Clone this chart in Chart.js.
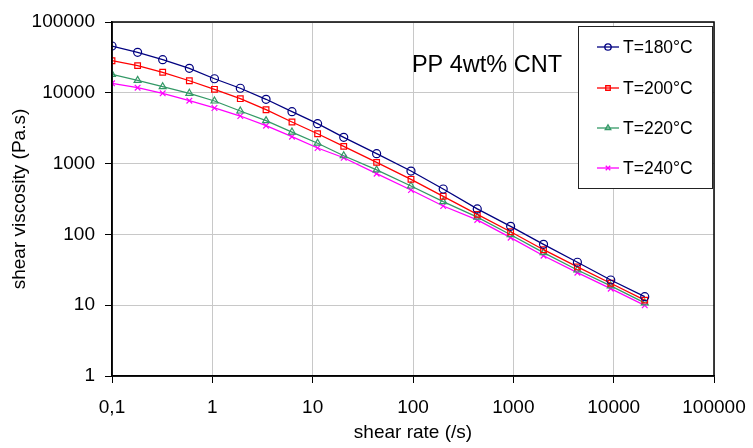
<!DOCTYPE html>
<html>
<head>
<meta charset="utf-8">
<script src="https://cdn.jsdelivr.net/npm/chart.js@4/dist/chart.umd.min.js"></script>
<style>
  html, body { margin: 0; padding: 0; background: #fff; }
  #viscChart { display: block; }
</style>
</head>
<body>
<canvas id="viscChart" width="753" height="448"></canvas>
<script>
// shear rate (/s)
const shearRate = [0.1, 0.18, 0.32, 0.59, 1.05, 1.9, 3.43, 6.22, 11.2, 20.4, 43.4, 95.5, 200, 437, 940, 2000, 4350, 9350, 20400];

// shear viscosity (Pa.s) per temperature
const visc180 = [45800, 37300, 29400, 22200, 15800, 11600, 8100, 5410, 3660, 2350, 1380, 785, 438, 229, 130, 72.4, 40.4, 22.7, 13.2];
const visc200 = [28400, 24200, 19500, 14800, 11200, 8260, 5770, 3870, 2640, 1750, 1040, 600, 345, 192, 109, 60.8, 34.7, 20.4, 11.8];
const visc220 = [18200, 15000, 12200, 9840, 7660, 5530, 4040, 2790, 1940, 1290, 813, 483, 290, 175, 99, 55.2, 31.4, 18.7, 10.8];
const visc240 = [13600, 11800, 9840, 7730, 6100, 4700, 3430, 2400, 1660, 1210, 720, 424, 252, 160, 90, 50, 28.8, 17.1, 9.97];

const seriesLabels = ['T=180°C', 'T=200°C', 'T=220°C', 'T=240°C'];

const xTicks = [0.1, 1, 10, 100, 1000, 10000, 100000];
const xTickLabels = ['0,1', '1', '10', '100', '1000', '10000', '100000'];
const yTicks = [1, 10, 100, 1000, 10000, 100000];
const yTickLabels = ['1', '10', '100', '1000', '10000', '100000'];

const FONT = "'Liberation Sans', Arial, sans-serif";

function toPoints(ys) {
    return ys.map((y, i) => ({ x: shearRate[i], y: y }));
}

function makeSet(label, ys, color, style) {
    return {
        label: label,
        data: toPoints(ys),
        borderColor: color,
        backgroundColor: color,
        borderWidth: 1.3,
        pointStyle: style,
        pointRadius: 4,
        pointBorderWidth: 1.2,
        pointBorderColor: color,
        pointBackgroundColor: 'rgba(0,0,0,0)',
        tension: 0,
        fill: false
    };
}

// frame, annotation and boxed legend
const extrasPlugin = {
    id: 'extras',
    afterDraw(chart) {
        const ctx = chart.ctx;
        const a = chart.chartArea;
        ctx.save();
        ctx.strokeStyle = '#000';
        ctx.lineWidth = 1.5;
        ctx.strokeRect(a.left, a.top, a.right - a.left, a.bottom - a.top);

        ctx.fillStyle = '#000';
        ctx.font = '23.5px ' + FONT;
        ctx.textAlign = 'center';
        ctx.textBaseline = 'alphabetic';
        ctx.fillText('PP 4wt% CNT', 487, 72);

        // legend box
        const bx = 578, by = 26, bw = 134, bh = 162;
        ctx.fillStyle = '#fff';
        ctx.fillRect(bx, by, bw, bh);
        ctx.strokeStyle = '#222';
        ctx.lineWidth = 1;
        ctx.strokeRect(bx + 0.5, by + 0.5, bw, bh);

        const rowY = [47, 88, 128, 168];
        ctx.font = '17.5px ' + FONT;
        ctx.textAlign = 'left';
        ctx.textBaseline = 'middle';
        chart.data.datasets.forEach((ds, i) => {
            const y = rowY[i];
            ctx.strokeStyle = ds.borderColor;
            ctx.lineWidth = 1.3;
            ctx.beginPath();
            ctx.moveTo(597, y);
            ctx.lineTo(619, y);
            ctx.stroke();
            ctx.fillStyle = 'rgba(0,0,0,0)';
            Chart.helpers.drawPoint(ctx, {
                pointStyle: ds.pointStyle,
                radius: 3.2,
                rotation: 0,
                borderWidth: 1.1
            }, 608, y);
            ctx.fillStyle = '#000';
            ctx.fillText(ds.label, 623, y + 1);
        });
        ctx.restore();
    }
};

const ctxVisc = document.getElementById('viscChart').getContext('2d');
const viscChart = new Chart(ctxVisc, {
    type: 'line',
    data: {
        datasets: [
            makeSet(seriesLabels[0], visc180, '#000080', 'circle'),
            makeSet(seriesLabels[1], visc200, '#ff0000', 'rect'),
            makeSet(seriesLabels[2], visc220, '#339966', 'triangle'),
            makeSet(seriesLabels[3], visc240, '#ff00ff', 'crossRot')
        ]
    },
    options: {
        responsive: false,
        animation: false,
        devicePixelRatio: 1,
        layout: { padding: { top: 22, right: 39, left: 0, bottom: 0 } },
        plugins: {
            legend: { display: false },
            tooltip: { enabled: false }
        },
        scales: {
            x: {
                type: 'logarithmic',
                min: 0.1,
                max: 100000,
                afterBuildTicks: (scale) => { scale.ticks = xTicks.map(v => ({ value: v })); },
                afterFit: (scale) => {
                    scale.height = 72;
                    scale.paddingLeft = 0;
                    scale.paddingRight = 0;
                },
                ticks: {
                    autoSkip: false,
                    maxRotation: 0,
                    padding: 13,
                    color: '#000',
                    font: { family: FONT, size: 19 },
                    callback: (v, i) => xTickLabels[i]
                },
                grid: { color: '#c8c8c8', lineWidth: 1, tickLength: 7, tickColor: '#000' },
                border: { color: '#000', width: 1.5 },
                title: {
                    display: true,
                    text: 'shear rate (/s)',
                    color: '#000',
                    font: { family: FONT, size: 19 },
                    padding: { top: 0, bottom: 4 }
                }
            },
            y: {
                type: 'logarithmic',
                min: 1,
                max: 100000,
                afterBuildTicks: (scale) => { scale.ticks = yTicks.map(v => ({ value: v })); },
                afterFit: (scale) => {
                    scale.width = 112;
                    scale.paddingTop = 0;
                    scale.paddingBottom = 0;
                },
                ticks: {
                    autoSkip: false,
                    padding: 10,
                    color: '#000',
                    font: { family: FONT, size: 19 },
                    callback: (v, i) => yTickLabels[i]
                },
                grid: { color: '#c8c8c8', lineWidth: 1, tickLength: 7, tickColor: '#000' },
                border: { color: '#000', width: 1.5 },
                title: {
                    display: true,
                    text: 'shear viscosity (Pa.s)',
                    color: '#000',
                    font: { family: FONT, size: 19 },
                    padding: { top: 8, bottom: 0 }
                }
            }
        }
    },
    plugins: [extrasPlugin]
});
</script>
</body>
</html>
